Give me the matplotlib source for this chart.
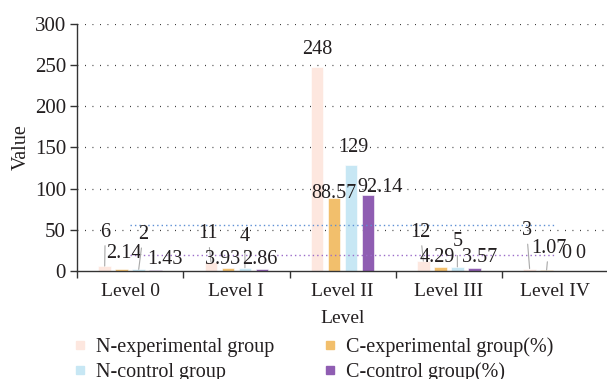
import numpy as np
import matplotlib
matplotlib.use("Agg")
import matplotlib.pyplot as plt
from matplotlib.lines import Line2D

plt.rcParams["font.family"] = ["Liberation Serif", "DejaVu Serif"]

# counts and percentages per level
levels = ["Level 0", "Level I", "Level II", "Level III", "Level IV"]
n_experimental = [6, 11, 248, 12, 3]
c_experimental = [2.14, 3.93, 88.57, 4.29, 1.07]
n_control = [2, 4, 129, 5, 0]
c_control = [1.43, 2.86, 92.14, 3.57, 0]

series = [
    ("N-experimental group", n_experimental, "#fde7df"),
    ("C-experimental group(%)", c_experimental, "#f2bf6c"),
    ("N-control group", n_control, "#c7e7f4"),
    ("C-control group(%)", c_control, "#8f5db2"),
]

# label placement (pixel offsets from the top of each bar)
label_offsets = [
    [(0.5, 34), (-3, 28), (0.5, 17), (-3, 29), (-3, 38)],
    [(2.5, 16), (-5, 8), (0, 5), (-3, 10), (2, 22)],
    [(4.5, 35), (0, 31), (2, 17), (0, 25), (3, 17)],
    [(9.5, 10), (-2, 9), (12, 8), (5, 11), (0, 17)],
]

TEXT = "#231f20"
PX = 72 / 100.0  # points per pixel

fig = plt.figure(figsize=(6.07, 3.79), dpi=100)
ax = fig.add_axes([0.127, 0.285, 0.875, 0.652])

x = np.arange(len(levels))
pitch = 0.16
width = 0.118

for i, (name, vals, color) in enumerate(series):
    pos = x + (i - 1.5) * pitch
    ax.bar(pos, vals, width=width, color=color, edgecolor="white",
           linewidth=0.4, zorder=2)
    for j, v in enumerate(vals):
        dx, dy = label_offsets[i][j]
        leader = dy > 20 and v < 50
        ax.annotate(
            f"{v:g}", xy=(pos[j], v), xytext=(dx * PX, dy * PX),
            textcoords="offset points", ha="center", va="center",
            fontsize=14.5, color=TEXT, zorder=4,
            arrowprops=dict(arrowstyle="-", color="#a8a8a8", lw=0.8,
                            shrinkA=1, shrinkB=0) if leader else None,
        )

# mean reference lines
ax.hlines(np.mean(n_experimental), 0, 4, colors="#5d8fd4",
          linestyles=(0, (1, 2.2)), linewidth=1.0, zorder=3)
ax.hlines(np.mean(c_experimental), 0, 4, colors="#9b6cc9",
          linestyles=(0, (1, 2.2)), linewidth=1.0, zorder=3)

ax.set_ylim(0, 300)
ax.set_xlim(-0.5, 4.5)
ax.set_yticks(np.arange(0, 301, 50))
for yv in np.arange(50, 301, 50):
    ax.axhline(yv, color="#222222", linestyle=(0, (0.7, 5.3)),
               linewidth=0.9, zorder=1)

ax.set_xticks(x)
ax.set_xticklabels(levels)
ax.set_xticks(np.arange(-0.5, 4.6, 1), minor=True)
ax.tick_params(axis="x", which="major", length=0, pad=9,
               labelsize=14, labelcolor=TEXT)
ax.tick_params(axis="x", which="minor", length=5, width=1.0,
               color="#333333")
ax.tick_params(axis="y", length=5, width=1.0, color="#333333",
               labelsize=15, labelcolor=TEXT, pad=3)

for side in ("top", "right"):
    ax.spines[side].set_visible(False)
for side in ("left", "bottom"):
    ax.spines[side].set_color("#333333")
    ax.spines[side].set_linewidth(1.0)

ax.set_xlabel("Level", fontsize=14, color=TEXT, labelpad=7)
ax.set_ylabel("Value", fontsize=14.5, color=TEXT, labelpad=3)

handles = [Line2D([], [], marker="s", linestyle="", markersize=5.5,
                  markerfacecolor=c, markeredgecolor=c)
           for _, _, c in series]
order = [0, 2, 1, 3]
fig.legend([handles[k] for k in order], [series[k][0] for k in order],
           ncol=2, loc="upper left", bbox_to_anchor=(0.122, 0.11),
           frameon=False, fontsize=14.5, handlelength=0.6,
           handletextpad=0.5, columnspacing=2.45, labelspacing=0.28,
           borderaxespad=0, borderpad=0, labelcolor=TEXT)

fig.savefig("out.png", dpi=100)
